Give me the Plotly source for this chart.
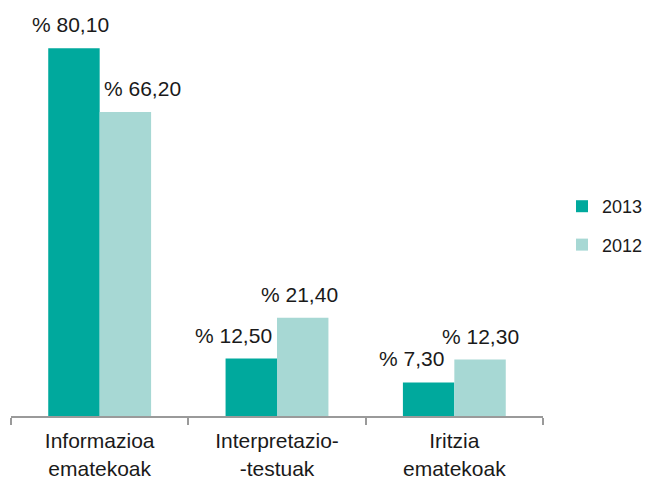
import plotly.graph_objects as go

categories = ["Informazioa<br>ematekoak", "Interpretazio-<br>-testuak", "Iritzia<br>ematekoak"]
series_names = ["2013", "2012"]
values_2013 = [80.10, 12.50, 7.30]
values_2012 = [66.20, 21.40, 12.30]
colors = ["#00A99D", "#A7D8D4"]

def fmt(v):
    return "% " + f"{v:.2f}".replace(".", ",")

FONT = "Liberation Sans, Arial"
BARGAP = 0.42
L, PLOT_W = 3, 532
BAR_PX = PLOT_W / len(categories) * (1 - BARGAP) / 2
# horizontal nudges (px) applied to value labels to avoid overlaps, as in the original
label_nudge = [[-3, -18, -17], [17, -3, 0]]

fig = go.Figure()
for name, vals, col in zip(series_names, [values_2013, values_2012], colors):
    fig.add_trace(go.Bar(
        x=categories, y=vals, name=name,
        marker=dict(color=col, line=dict(width=0)),
        legendgroup=name,
    ))

annotations = []
for i, vals in enumerate([values_2013, values_2012]):
    shift = (i - 0.5) * BAR_PX
    for j, (c, v) in enumerate(zip(categories, vals)):
        annotations.append(dict(
            x=c, y=v, xref="x", yref="y", text=fmt(v), showarrow=False,
            xanchor="center", yanchor="bottom", xshift=shift + label_nudge[i][j], yshift=10,
            font=dict(family=FONT, size=21, color="#1a1a1a"),
        ))

fig.update_layout(
    width=650, height=481,
    margin=dict(l=L, r=0, t=4, b=73, autoexpand=False),
    paper_bgcolor="white", plot_bgcolor="white",
    barmode="group", bargap=BARGAP, bargroupgap=0,
    font=dict(family=FONT, size=21, color="#1a1a1a"),
    showlegend=True,
    legend=dict(x=(554 - L) / (650 - L), xanchor="left", y=0.4715, yanchor="middle",
                tracegroupgap=12, font=dict(size=18), itemwidth=30),
    xaxis=dict(domain=[0, PLOT_W / (650 - L)], automargin=False,
               showline=True, linecolor="#9a9a9a", linewidth=2,
               ticks="outside", tickson="boundaries", ticklen=7, tickwidth=2,
               tickcolor="#9a9a9a", showgrid=False, tickfont=dict(size=21),
               ticklabelstandoff=5),
    yaxis=dict(range=[0, 88], visible=False, showgrid=False, zeroline=False,
               automargin=False),
    annotations=annotations,
)

fig.write_html("out.html")
